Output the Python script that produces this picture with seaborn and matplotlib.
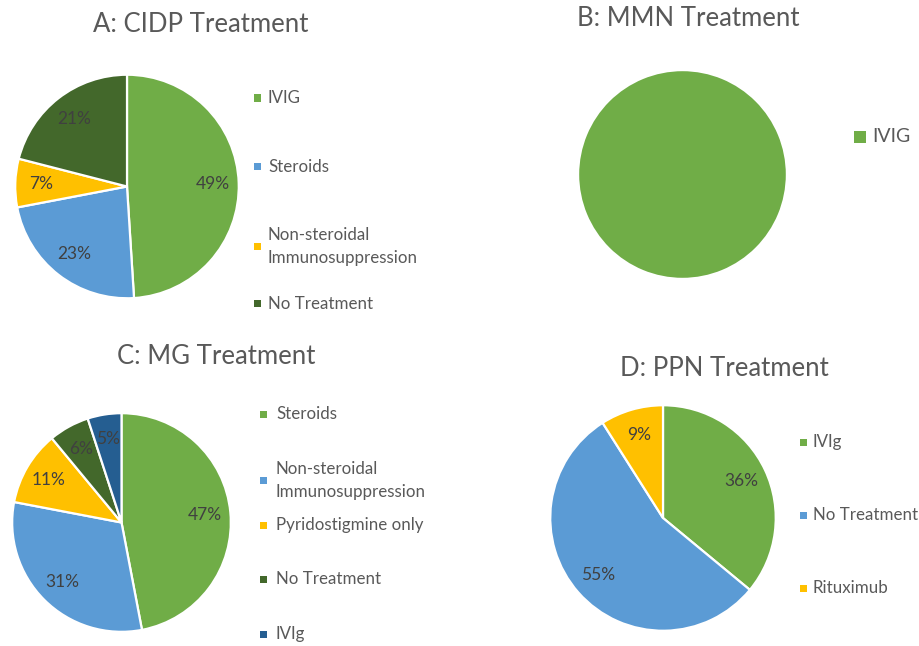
import matplotlib
matplotlib.use("Agg")
import matplotlib.pyplot as plt
from matplotlib.patches import Rectangle
import seaborn as sns

# ---------------- data ----------------
cidp_labels = ["IVIG", "Steroids", "Non-steroidal\nImmunosuppression", "No Treatment"]
cidp_values = [49, 23, 7, 21]

mmn_labels = ["IVIG"]
mmn_values = [100]

mg_labels = ["Steroids", "Non-steroidal\nImmunosuppression", "Pyridostigmine only", "No Treatment", "IVIg"]
mg_values = [47, 31, 11, 6, 5]

ppn_labels = ["IVIg", "No Treatment", "Rituximub"]
ppn_values = [36, 55, 9]

titles = ["A: CIDP Treatment", "B: MMN Treatment", "C: MG Treatment", "D: PPN Treatment"]

GREEN, BLUE, YELLOW, DKGREEN, DKBLUE = "#70AD47", "#5B9BD5", "#FFC000", "#43682B", "#255E91"
cidp_colors = [GREEN, BLUE, YELLOW, DKGREEN]
mmn_colors = [GREEN]
mg_colors = [GREEN, BLUE, YELLOW, DKGREEN, DKBLUE]
ppn_colors = [GREEN, BLUE, YELLOW]

# ---------------- style ----------------
sns.set_theme(style="white")
plt.rcParams["font.family"] = ["Lato", "DejaVu Sans"]

W, H = 920, 646
fig = plt.figure(figsize=(W / 100, H / 100), dpi=100)
fig.patch.set_facecolor("white")

TXT = "#595959"
PCT = "#404040"
TITLE_FS = 18.5


def fx(x):
    return x / W


def fy(y):
    return 1 - y / H


def pie_at(cx, cy, r, values, colors, show_pct=True, pct_fs=12.5):
    ax = fig.add_axes([fx(cx - r), fy(cy + r), 2 * r / W, 2 * r / H])
    kw = dict(colors=colors, startangle=90, counterclock=False, radius=1,
              wedgeprops=dict(edgecolor="white", linewidth=1.6))
    if show_pct:
        kw.update(autopct="%1.0f%%", pctdistance=0.77,
                  textprops=dict(color=PCT, fontsize=pct_fs))
    ax.pie(values, **kw)
    ax.set_xlim(-1.02, 1.02)
    ax.set_ylim(-1.02, 1.02)
    ax.set_axis_off()
    return ax


def legend_at(mx, tx, ys, labels, colors, fs=12.2, msize=7):
    for y, lab, c in zip(ys, labels, colors):
        fig.add_artist(Rectangle((fx(mx - msize / 2), fy(y + msize / 2)),
                                 msize / W, msize / H, transform=fig.transFigure,
                                 facecolor=c, edgecolor="none"))
        fig.text(fx(tx), fy(y), lab, ha="left", va="center", fontsize=fs,
                 color=TXT, linespacing=1.5)


# A: CIDP
fig.text(fx(201), fy(24), titles[0], ha="center", va="center", fontsize=TITLE_FS, color=TXT)
pie_at(127, 186.5, 114, cidp_values, cidp_colors)
legend_at(258, 268, [98, 167, 246.5, 304], cidp_labels, cidp_colors)

# B: MMN
fig.text(fx(688), fy(19), titles[1], ha="center", va="center", fontsize=TITLE_FS, color=TXT)
pie_at(682.5, 174.5, 106.5, mmn_values, mmn_colors, show_pct=False)
legend_at(860, 872, [137], mmn_labels, mmn_colors, fs=14, msize=12)

# C: MG
fig.text(fx(216), fy(356), titles[2], ha="center", va="center", fontsize=TITLE_FS, color=TXT)
pie_at(121.5, 522.5, 111.5, mg_values, mg_colors)
legend_at(264, 276, [414, 480.5, 525, 579, 634], mg_labels, mg_colors)

# D: PPN
fig.text(fx(724), fy(368), titles[3], ha="center", va="center", fontsize=TITLE_FS, color=TXT)
pie_at(663, 518, 115, ppn_values, ppn_colors)
legend_at(804, 813, [442, 515, 588], ppn_labels, ppn_colors)

fig.savefig("out.png", dpi=100, facecolor="white")
